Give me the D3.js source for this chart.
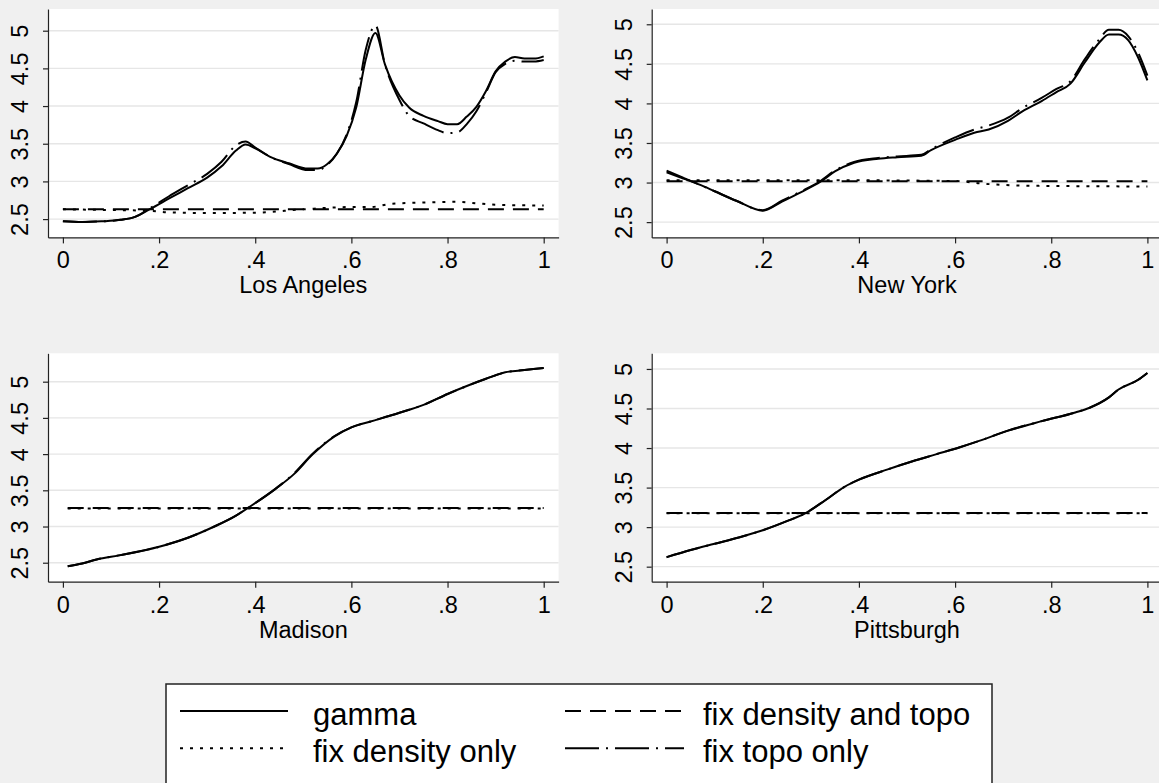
<!DOCTYPE html>
<html>
<head>
<meta charset="utf-8">
<script src="https://cdn.jsdelivr.net/npm/d3@7"></script>
<style>
  body { margin: 0; background: #f0f0f0; }
  text { font-family: "Liberation Sans", Arial, sans-serif; fill: #000; }
</style>
</head>
<body>
<script>
// --- data ---
var xTicks = [0, .2, .4, .6, .8, 1];
var yTicks = [2.5, 3, 3.5, 4, 4.5, 5];
var seriesNames = ['gamma', 'fix density only', 'fix density and topo', 'fix topo only'];

// Los Angeles
var laX = [0, .04, .08, .12, .15, .18, .22, .26, .30, .33, .36, .38, .40, .43, .47, .51, .53, .55, .57, .59,
           .61, .63, .65, .67, .70, .72, .75, .78, .80, .82, .84, .86, .88, .90, .92, .94, .96, .98, 1];
var laGamma = [2.47, 2.46, 2.47, 2.49, 2.53, 2.63, 2.77, 2.91, 3.05, 3.20, 3.41, 3.49, 3.44, 3.33, 3.24, 3.17, 3.17, 3.23, 3.37, 3.60,
               3.98, 4.62, 4.97, 4.55, 4.14, 3.98, 3.87, 3.80, 3.76, 3.76, 3.86, 3.99, 4.20, 4.46, 4.59, 4.65, 4.63, 4.63, 4.66];
var laTopo = [2.47, 2.46, 2.47, 2.49, 2.53, 2.64, 2.80, 2.95, 3.10, 3.26, 3.48, 3.53, 3.45, 3.33, 3.23, 3.15, 3.15, 3.22, 3.37, 3.62,
              4.05, 4.75, 5.07, 4.55, 4.08, 3.87, 3.77, 3.68, 3.64, 3.65, 3.76, 3.93, 4.18, 4.45, 4.56, 4.60, 4.59, 4.59, 4.61];
var laDensX = [0, .10, .18, .22, .30, .40, .50, .60, .64, .68, .75, .82, .86, .90, 1];
var laDens = [2.63, 2.62, 2.61, 2.59, 2.58, 2.585, 2.63, 2.66, 2.66, 2.70, 2.72, 2.73, 2.71, 2.69, 2.68];
var laBothX = [0, 1];
var laBoth = [2.63, 2.63];

// New York
var nyX = [0, .035, .07, .10, .145, .20, .24, .28, .32, .35, .39, .44, .48, .53, .55,
           .60, .64, .67, .71, .74, .78, .81, .84, .87, .90, .92, .94, .96, .98, 1];
var nyGamma = [3.13, 3.05, 2.97, 2.89, 2.77, 2.645, 2.76, 2.88, 3.01, 3.14, 3.25, 3.30, 3.32, 3.34, 3.41,
               3.54, 3.63, 3.67, 3.78, 3.90, 4.03, 4.14, 4.25, 4.52, 4.77, 4.87, 4.87, 4.80, 4.59, 4.29];
var nyTopo = [3.15, 3.06, 2.97, 2.89, 2.77, 2.65, 2.77, 2.89, 3.02, 3.15, 3.26, 3.31, 3.33, 3.35, 3.42,
              3.57, 3.67, 3.72, 3.82, 3.94, 4.07, 4.18, 4.28, 4.56, 4.81, 4.93, 4.93, 4.85, 4.65, 4.35];
var nyDensX = [0, .3, .6, .65, .7, .75, .85, 1];
var nyDens = [3.03, 3.03, 3.02, 2.99, 2.97, 2.96, 2.955, 2.95];
var nyBothX = [0, 1];
var nyBoth = [3.015, 3.015];

// Madison
var maX = [.01, .04, .07, .12, .20, .26, .315, .36, .39, .44, .48, .52, .565, .60, .64, .70, .75, .80, .84, .88, .92, .96, 1];
var maGamma = [2.45, 2.49, 2.545, 2.605, 2.72, 2.845, 3.0, 3.15, 3.28, 3.51, 3.72, 4.0, 4.245, 4.37, 4.45, 4.57, 4.68, 4.83, 4.94, 5.04, 5.13, 5.16, 5.19];
var maTopo = [2.45, 2.49, 2.545, 2.605, 2.72, 2.845, 3.0, 3.15, 3.28, 3.51, 3.73, 4.01, 4.25, 4.37, 4.45, 4.57, 4.68, 4.83, 4.94, 5.04, 5.13, 5.16, 5.19];
var maDensX = [.01, 1];
var maDens = [3.25, 3.25];
var maBothX = [.01, 1];
var maBoth = [3.255, 3.255];

// Pittsburgh
var piX = [0, .05, .10, .15, .20, .25, .29, .33, .37, .40, .46, .51, .56, .61, .65, .71, .78, .85, .88, .92, .94, .98, 1];
var piGamma = [2.62, 2.71, 2.79, 2.87, 2.96, 3.075, 3.18, 3.34, 3.51, 3.60, 3.73, 3.83, 3.92, 4.01, 4.09, 4.22, 4.34, 4.45, 4.51, 4.64, 4.74, 4.86, 4.95];
var piTopo = piGamma.slice();
var piDensX = [0, 1];
var piDens = [3.175, 3.175];
var piBothX = [0, 1];
var piBoth = [3.178, 3.178];

// --- layout ---
var W = 1159, H = 783;
var pw = 510.6, ph = 228.4;
var dashes = ['none', '3,7', '16,9', '34,7,2,7'];

var svg = d3.select('body').append('svg')
  .attr('width', W)
  .attr('height', H);

svg.append('rect').attr('width', W).attr('height', H).attr('fill', '#f0f0f0');

function zip(xs, ys) {
  return xs.map(function(d, i) { return [d, ys[i]]; });
}

var panels = [
  { title: 'Los Angeles', left: 48, top: 9, yDom: [2.257, 5.288],
    lines: [zip(laX, laGamma), zip(laDensX, laDens), zip(laBothX, laBoth), zip(laX, laTopo)] },
  { title: 'New York', left: 651.7, top: 9, yDom: [2.307, 5.193],
    lines: [zip(nyX, nyGamma), zip(nyDensX, nyDens), zip(nyBothX, nyBoth), zip(nyX, nyTopo)] },
  { title: 'Madison', left: 48, top: 353.3, yDom: [2.238, 5.392],
    lines: [zip(maX, maGamma), zip(maDensX, maDens), zip(maBothX, maBoth), zip(maX, maTopo)] },
  { title: 'Pittsburgh', left: 651.7, top: 353.3, yDom: [2.31, 5.198],
    lines: [zip(piX, piGamma), zip(piDensX, piDens), zip(piBothX, piBoth), zip(piX, piTopo)] }
];

// Stata style labels: "0", ".2", ... "1" and "2.5", "3", ...
var fmtX = function(d) { return d === 0 ? '0' : d === 1 ? '1' : String(d).replace('0.', '.'); };
var fmtY = function(d) { return String(d); };

panels.forEach(function(p) {
  var g = svg.append('g').attr('transform', 'translate(' + p.left + ',' + p.top + ')');
  var x = d3.scaleLinear().domain([-0.031, 1.031]).range([0, pw]);
  var y = d3.scaleLinear().domain(p.yDom).range([ph, 0]);

  g.append('rect').attr('width', pw).attr('height', ph).attr('fill', '#fff');

  // grid
  g.selectAll('.grid').data(yTicks).enter().append('line')
    .attr('x1', 0).attr('x2', pw)
    .attr('y1', function(d) { return y(d); })
    .attr('y2', function(d) { return y(d); })
    .attr('stroke', '#e6e6e6')
    .attr('stroke-width', 1.4);

  var line = d3.line()
    .x(function(d) { return x(d[0]); })
    .y(function(d) { return y(d[1]); })
    .curve(d3.curveMonotoneX);

  g.selectAll('.series').data(p.lines).enter().append('path')
    .attr('d', line)
    .attr('fill', 'none')
    .attr('stroke', '#000')
    .attr('stroke-width', 2)
    .attr('stroke-dasharray', function(d, i) { return dashes[i]; });

  // axes
  var xa = g.append('g').attr('transform', 'translate(0,' + ph + ')')
    .call(d3.axisBottom(x).tickValues(xTicks).tickFormat(fmtX).tickSize(6).tickSizeOuter(0));
  xa.selectAll('text').attr('y', 31).attr('dy', null).style('font-size', '23.5px');

  var ya = g.append('g')
    .call(d3.axisLeft(y).tickValues(yTicks).tickFormat(fmtY).tickSize(5).tickSizeOuter(0));
  ya.selectAll('text')
    .attr('x', null).attr('dy', null)
    .attr('text-anchor', 'middle')
    .attr('transform', 'translate(-20,0) rotate(-90)')
    .style('font-size', '23.5px');

  g.selectAll('.domain, .tick line').attr('stroke', '#222').attr('stroke-width', 1.2);

  g.append('text')
    .attr('x', x(0.5)).attr('y', ph + 56)
    .attr('text-anchor', 'middle')
    .style('font-size', '23.5px')
    .text(p.title);
});

// legend
var lg = svg.append('g');
lg.append('rect')
  .attr('x', 166).attr('y', 684).attr('width', 826).attr('height', 120)
  .attr('fill', '#fff').attr('stroke', '#222').attr('stroke-width', 1.5);

var legendItems = [
  { i: 0, kx: 180, kw: 108, tx: 313, row: 0 },
  { i: 2, kx: 565, kw: 119, tx: 703, row: 0 },
  { i: 1, kx: 180, kw: 108, tx: 313, row: 1 },
  { i: 3, kx: 565, kw: 119, tx: 703, row: 1 }
];

legendItems.forEach(function(d) {
  var ky = 711 + d.row * 37.3;
  lg.append('line')
    .attr('x1', d.kx).attr('x2', d.kx + d.kw)
    .attr('y1', ky).attr('y2', ky)
    .attr('stroke', '#000').attr('stroke-width', 2)
    .attr('stroke-dasharray', dashes[d.i]);
  lg.append('text')
    .attr('x', d.tx).attr('y', ky + 14)
    .style('font-size', '31px')
    .text(seriesNames[d.i]);
});
</script>
</body>
</html>
